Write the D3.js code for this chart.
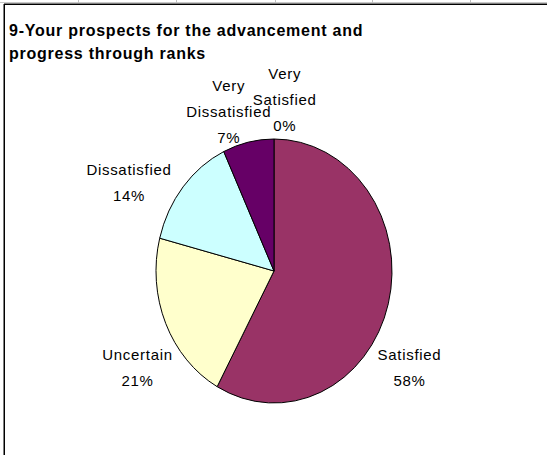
<!DOCTYPE html>
<html><head><meta charset="utf-8">
<script src="https://cdn.jsdelivr.net/npm/d3@7"></script>
<style>html,body{margin:0;padding:0;background:#fff;}svg{display:block;}</style>
</head><body>
<script>
const categories = ["Very Satisfied", "Satisfied", "Uncertain", "Dissatisfied", "Very Dissatisfied"];
const labelLines = [["Very", "Satisfied"], ["Satisfied"], ["Uncertain"], ["Dissatisfied"], ["Very", "Dissatisfied"]];
const values = [0, 58, 21, 14, 7];
const colors = ["#9999FF", "#993366", "#FFFFCC", "#CCFFFF", "#660066"];
const titleLines = ["9-Your prospects for the advancement and", "progress through ranks"];
// label layout tweaks (angle nudge in degrees, distance factor)
const labelNudge = [4, 18, -9, -11, -5];
const labelDist = [1.30, 1.36, 1.37, 1.40, 1.27];

const W = 547, H = 455;
const svg = d3.select("body").append("svg").attr("width", W).attr("height", H);

// sheet gridline ticks and chart border
svg.append("line").attr("x1", 0).attr("x2", W).attr("y1", 2.5).attr("y2", 2.5).attr("stroke", "#c8c8c8").attr("stroke-width", 1);
[78, 176, 275, 372, 470].forEach(x => svg.append("line").attr("x1", x + .5).attr("x2", x + .5).attr("y1", 0).attr("y2", 3).attr("stroke", "#c0c0c0"));
svg.append("line").attr("x1", 4).attr("x2", W).attr("y1", 4.25).attr("y2", 4.25).attr("stroke", "#000").attr("stroke-width", 1.5);
svg.append("line").attr("x1", 4.25).attr("x2", 4.25).attr("y1", 4).attr("y2", H).attr("stroke", "#000").attr("stroke-width", 1.5);

// title
svg.append("g").selectAll("text").data(titleLines).join("text")
  .attr("x", 9).attr("y", (d, i) => 36 + i * 23)
  .attr("font-family", "Liberation Sans, Arial, sans-serif").attr("font-weight", "bold")
  .attr("font-size", 16).attr("letter-spacing", 0.75).attr("fill", "#000").text(d => d);

const cx = 274, cy = 271, rx = 118, ry = 132;
const pie = d3.pie().sort(null).value(d => d)(values);
const arc = d3.arc().innerRadius(0).outerRadius(rx);

const g = svg.append("g").attr("transform", `translate(${cx},${cy}) scale(1,${ry / rx})`);
g.selectAll("path").data(pie).join("path")
  .attr("d", arc).attr("fill", (d, i) => colors[i])
  .attr("stroke", "#000").attr("stroke-width", 1).attr("vector-effect", "non-scaling-stroke");

// labels
const fmt = d3.format(".0%");
const total = d3.sum(values);
const lg = svg.append("g").attr("font-family", "Liberation Sans, Arial, sans-serif").attr("font-size", 15)
  .attr("letter-spacing", 0.7).attr("fill", "#000").attr("text-anchor", "middle");
pie.forEach((d, i) => {
  const mid = (d.startAngle + d.endAngle) / 2 + labelNudge[i] * Math.PI / 180;
  const px = cx + Math.sin(mid) * rx * labelDist[i];
  const py = cy - Math.cos(mid) * ry * labelDist[i];
  const lines = labelLines[i].concat([fmt(values[i] / total)]);
  const n = lines.length;
  lines.forEach((t, j) => {
    lg.append("text").attr("x", px).attr("y", py + (j - (n - 1) / 2) * 26 + 5.5).text(t);
  });
});
</script>
</body></html>
